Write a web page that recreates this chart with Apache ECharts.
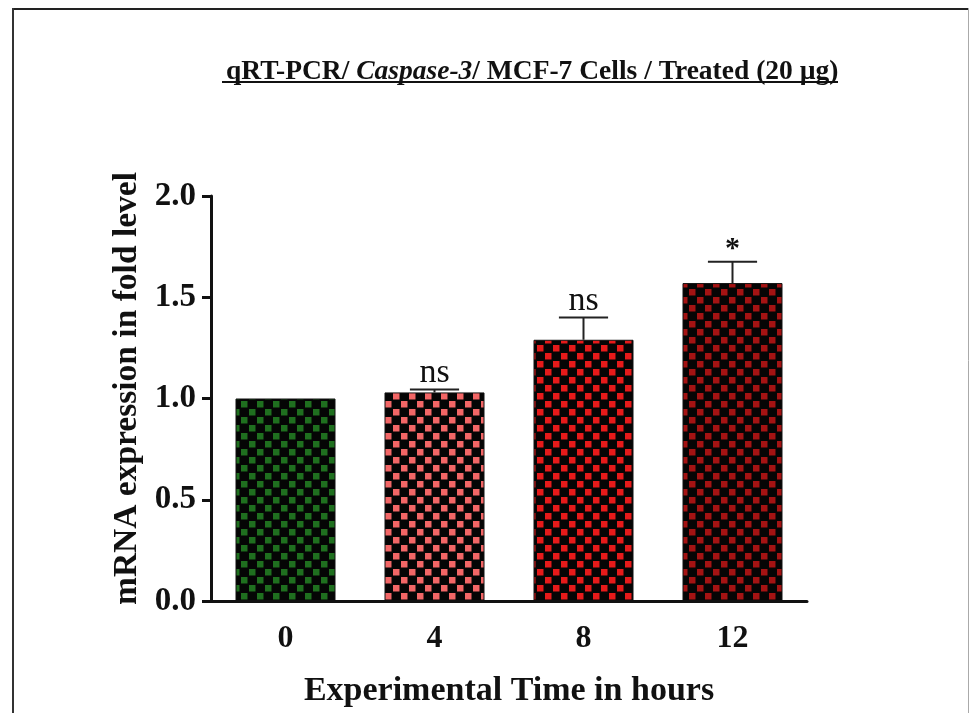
<!DOCTYPE html>
<html>
<head>
<meta charset="utf-8">
<script src="https://cdn.jsdelivr.net/npm/echarts@6/dist/echarts.min.js"></script>
<style>
html,body{margin:0;padding:0;background:#ffffff;}
#chart{width:971px;height:713px;}
</style>
</head>
<body>
<div id="chart"></div>
<script>
// ---- data ----
const categories = ['0', '4', '8', '12'];
const meanValues = [1.0, 1.03, 1.29, 1.57];
const semValues = [0, 0.015, 0.11, 0.105];
const significance = ['', 'ns', 'ns', '*'];
const yTicks = ['0.0', '0.5', '1.0', '1.5', '2.0'];
const barColors = ['#1f6f1f', '#f26666', '#e61a1a', '#a41313'];

const titleMain = 'qRT-PCR/ ';
const titleItalic = 'Caspase-3';
const titleRest = '/ MCF-7 Cells / Treated (20 µg)';
const yName = 'mRNA expression in fold level';
const xName = 'Experimental Time in hours';

const SERIF = '"Liberation Serif", "Times New Roman", "DejaVu Serif", serif';

function checker(color) {
  const c = document.createElement('canvas');
  c.width = 16; c.height = 16;
  const g = c.getContext('2d');
  g.fillStyle = '#050505';
  g.fillRect(0, 0, 16, 16);
  g.fillStyle = color;
  g.fillRect(1, 1, 6.5, 6.5);
  g.fillRect(9, 9, 6.5, 6.5);
  return c;
}

const barData = meanValues.map((v, i) => ({
  value: v,
  itemStyle: { color: { image: checker(barColors[i]), repeat: 'repeat' } }
}));

const errData = meanValues.map((v, i) => [i, v, v + semValues[i], significance[i], semValues[i]]);

const chart = echarts.init(document.getElementById('chart'), null, { renderer: 'canvas' });

chart.setOption({
  backgroundColor: '#ffffff',
  animation: false,
  title: {
    text: '{a|' + titleMain + '}{b|' + titleItalic + '}{a|' + titleRest + '}',
    left: 221,
    top: 52,
    textStyle: {
      rich: {
        a: { fontFamily: SERIF, fontWeight: 'bold', fontSize: 27.5, color: '#111', lineHeight: 30 },
        b: { fontFamily: SERIF, fontWeight: 'bold', fontStyle: 'italic', fontSize: 27.5, color: '#111', lineHeight: 30 }
      }
    }
  },
  graphic: [
    { type: 'line', shape: { x1: 222, y1: 82, x2: 838, y2: 82 }, style: { stroke: '#111', lineWidth: 2 } },
    { type: 'line', shape: { x1: 12, y1: 9, x2: 969, y2: 9 }, style: { stroke: '#222', lineWidth: 2 } },
    { type: 'line', shape: { x1: 13, y1: 8, x2: 13, y2: 713 }, style: { stroke: '#333', lineWidth: 2 } },
    { type: 'line', shape: { x1: 968.5, y1: 8, x2: 968.5, y2: 713 }, style: { stroke: '#aaa', lineWidth: 1 } }
  ],
  grid: { left: 211, right: 164, top: 196, bottom: 111, containLabel: false },
  xAxis: {
    type: 'category',
    data: categories,
    name: xName,
    nameLocation: 'middle',
    nameGap: 73,
    nameTextStyle: { fontFamily: SERIF, fontWeight: 'bold', fontSize: 34, color: '#111' },
    axisLine: { lineStyle: { color: '#111', width: 3 } },
    axisTick: { alignWithLabel: true, length: 9, lineStyle: { color: '#111', width: 3 } },
    axisLabel: { fontFamily: SERIF, fontWeight: 'bold', fontSize: 32, color: '#111', margin: 22 },
    splitLine: { show: false }
  },
  yAxis: {
    type: 'value',
    min: 0,
    max: 2,
    interval: 0.5,
    name: yName,
    nameLocation: 'middle',
    nameGap: 66,
    nameTextStyle: { fontFamily: SERIF, fontWeight: 'bold', fontSize: 33.5, color: '#111', padding: [0, 0, 0, 20] },
    axisLine: { show: true, lineStyle: { color: '#111', width: 3 } },
    axisTick: { show: true, length: 9, lineStyle: { color: '#111', width: 3 } },
    axisLabel: {
      fontFamily: SERIF, fontWeight: 'bold', fontSize: 33, color: '#111', margin: 15,
      formatter: function (v) { return yTicks[Math.round(v / 0.5)]; }
    },
    splitLine: { show: false }
  },
  series: [
    {
      type: 'bar',
      data: barData,
      barWidth: 100,
      itemStyle: { borderColor: '#111', borderWidth: 1 },
      z: 2
    },
    {
      type: 'custom',
      data: errData,
      encode: { x: 0, y: 2 },
      z: 3,
      renderItem: function (params, api) {
        const i = api.value(0);
        const mean = api.value(1);
        const up = api.value(2);
        const sem = api.value(4);
        const label = significance[i];
        const pTop = api.coord([i, up]);
        const pBase = api.coord([i, mean]);
        const half = api.size([1, 0])[0] * 0.165;
        const children = [];
        if (sem > 0) {
          children.push({ type: 'line', shape: { x1: pBase[0], y1: pBase[1], x2: pTop[0], y2: pTop[1] }, style: { stroke: '#222', lineWidth: 2 } });
          children.push({ type: 'line', shape: { x1: pTop[0] - half, y1: pTop[1], x2: pTop[0] + half, y2: pTop[1] }, style: { stroke: '#222', lineWidth: 2 } });
        }
        if (label) {
          children.push({
            type: 'text',
            style: {
              text: label,
              x: pTop[0],
              y: pTop[1] + (label === '*' ? 2 : 1),
              align: 'center',
              verticalAlign: 'bottom',
              font: (label === '*' ? 'bold 30px ' : '34px ') + SERIF,
              fill: '#111'
            }
          });
        }
        return { type: 'group', children: children };
      }
    }
  ]
});
</script>
</body>
</html>
